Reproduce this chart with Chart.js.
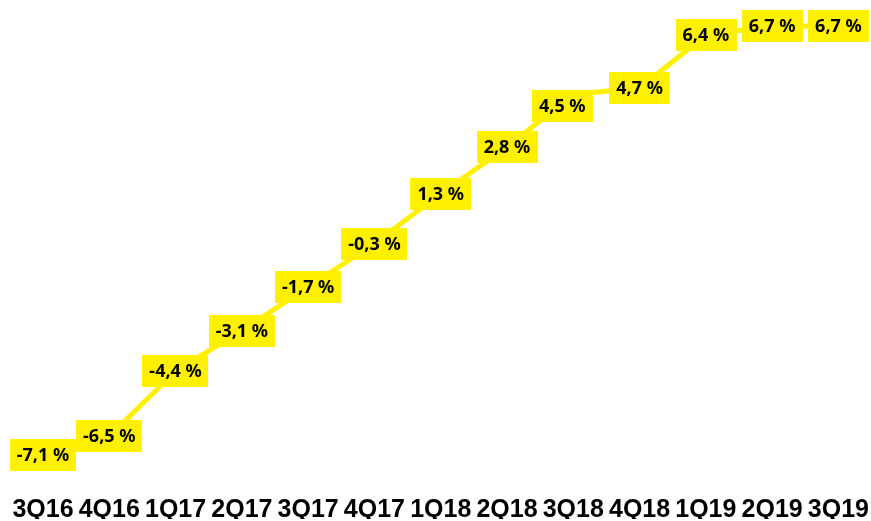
<!DOCTYPE html>
<html>
<head>
<meta charset="utf-8">
<script src="https://cdn.jsdelivr.net/npm/chart.js@4.4.0/dist/chart.umd.min.js"></script>
<style>
  html, body { margin: 0; padding: 0; background: #fff; }
  #wrap { width: 871px; height: 521px; }
</style>
</head>
<body>
<div id="wrap"><canvas id="growth"></canvas></div>
<script>
// quarters on the x axis
var quarters = ['3Q16', '4Q16', '1Q17', '2Q17', '3Q17', '4Q17', '1Q18', '2Q18', '3Q18', '4Q18', '1Q19', '2Q19', '3Q19'];
// yearly change in %
var growth = [-7.1, -6.5, -4.4, -3.1, -1.7, -0.3, 1.3, 2.8, 4.5, 4.7, 6.4, 6.7, 6.7];

var yellow = '#FFF000';

// the 4,5 % label sits a bit off its point in the original
var labelNudge = { 8: [-11, 12] };

// yellow boxes with the value, drawn on top of the line
var boxLabels = {
    id: 'boxLabels',
    afterDatasetsDraw: function (chart) {
        var c = chart.ctx;
        var meta = chart.getDatasetMeta(0);
        c.save();
        c.font = 'bold 18px "Noto Sans"';
        c.textAlign = 'center';
        c.textBaseline = 'middle';
        meta.data.forEach(function (pt, i) {
            var txt = growth[i].toFixed(1).replace('.', ',') + ' %';
            var nudge = labelNudge[i] || [0, 0];
            var x = pt.x + nudge[0];
            var y = pt.y + nudge[1];
            var w = c.measureText(txt).width + 14;
            var h = 32;
            c.fillStyle = yellow;
            c.fillRect(Math.round(x - w / 2), Math.round(y - h / 2), Math.round(w), h);
            c.fillStyle = '#000';
            c.fillText(txt, x, y + 1);
        });
        c.restore();
    }
};

var ctx = document.getElementById('growth').getContext('2d');
var chart = new Chart(ctx, {
    type: 'line',
    data: {
        labels: quarters,
        datasets: [{
            data: growth,
            borderColor: yellow,
            borderWidth: 5,
            pointRadius: 0,
            tension: 0,
            fill: false
        }]
    },
    options: {
        responsive: true,
        maintainAspectRatio: false,
        animation: false,
        layout: { padding: { left: 43, right: 32, top: 1, bottom: 2 } },
        plugins: {
            legend: { display: false },
            tooltip: { enabled: false }
        },
        scales: {
            x: {
                offset: false,
                grid: { display: false, drawTicks: false },
                border: { display: false },
                afterFit: function (scale) { scale.height = 36; },
                ticks: {
                    color: '#000',
                    padding: 2,
                    maxRotation: 0,
                    autoSkip: false,
                    font: { family: '"Liberation Sans", Arial', weight: 'bold', size: 25, lineHeight: 2 }
                }
            },
            y: {
                display: false,
                min: -8,
                max: 7.5
            }
        }
    },
    plugins: [boxLabels]
});
</script>
</body>
</html>
